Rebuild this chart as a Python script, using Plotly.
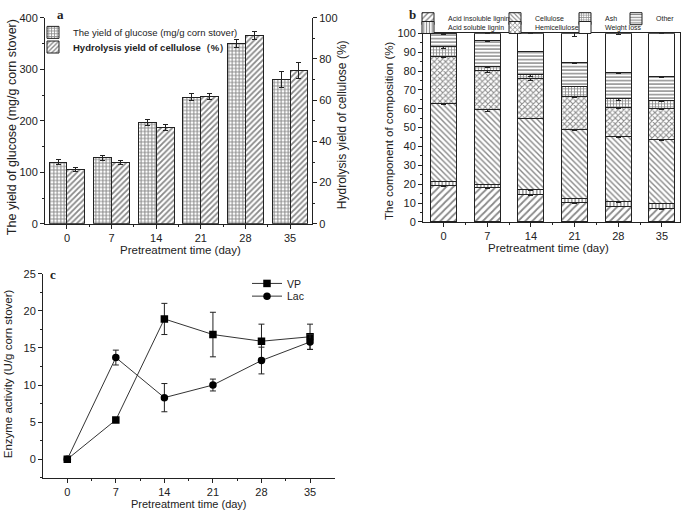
import plotly.graph_objects as go

# ---------------- data ----------------
days = [0, 7, 14, 21, 28, 35]

# panel a
glucose = [120, 128, 197, 246, 350, 280]
glucose_err = [5, 5, 6, 6, 7, 16]
hydrolysis = [26.3, 29.7, 46.8, 61.8, 91.5, 74.5]
hydrolysis_err = [1.0, 1.0, 1.5, 1.3, 2.0, 4.0]

# panel b (segment sizes, %)
ail = [19.5, 18.2, 14.5, 10.2, 8.2, 7.0]
asl = [2.0, 1.8, 2.5, 2.4, 2.6, 2.8]
cellulose = [41.5, 39.5, 38.0, 36.2, 34.5, 33.7]
hemicellulose = [24.5, 21.0, 21.0, 17.7, 15.2, 16.7]
ash = [5.5, 2.0, 2.0, 5.5, 5.0, 4.1]
other = [7.0, 13.5, 12.5, 12.3, 13.7, 12.9]
weight_loss = [0.0, 4.0, 9.5, 15.7, 20.8, 22.8]
ail_err = [0.8, 0.5, 0.4, 0.5, 0.3, 0.3]
asl_err = [0.3, 0.3, 0.3, 0.3, 0.3, 0.3]
cellulose_err = [0.6, 1.2, 0.4, 0.5, 0.4, 0.5]
hemicellulose_err = [0.5, 1.5, 0.8, 0.5, 0.6, 0.8]
ash_err = [0.8, 0.5, 1.0, 0.4, 1.0, 0.5]
other_err = [0.4, 0.3, 0.3, 0.5, 0.4, 0.6]
weight_loss_err = [0.3, 0.3, 0.3, 1.5, 0.4, 0.3]

# panel c
vp = [0.0, 5.3, 18.9, 16.8, 15.9, 16.5]
vp_err = [0.0, 0.2, 2.1, 3.0, 2.3, 1.7]
lac = [0.0, 13.7, 8.3, 10.0, 13.3, 15.8]
lac_err = [0.0, 1.0, 1.9, 0.8, 1.8, 1.0]

tick_days = [0, 7, 14, 21, 28, 35]
tick_text = ["0", "7", "14", "21", "28", "35"]

W, H = 685, 519
FONT = "Liberation Sans, Arial, sans-serif"
INK = "#222222"
PAT = "#111111"


def px(x):
    return x / W


def py(y):
    return 1 - y / H


fig = go.Figure()

err_style = dict(type="data", color=INK, thickness=1, width=2.5)

# ---------------- panel a ----------------
fig.add_trace(go.Bar(
    x=days, y=glucose, width=2.8, offset=-2.8,
    name="The yield of glucose (mg/g corn stover)",
    marker=dict(color="white", line=dict(color=INK, width=1),
                pattern=dict(shape="+", size=3.5, solidity=0.5,
                             fgcolor=PAT, bgcolor="white")),
    error_y=dict(array=glucose_err, **err_style),
    xaxis="x", yaxis="y", legend="legend",
))
fig.add_trace(go.Bar(
    x=days, y=hydrolysis, width=2.8, offset=0,
    name="<b>Hydrolysis yield of cellulose（%）</b>",
    marker=dict(color="white", line=dict(color=INK, width=1),
                pattern=dict(shape="/", size=4, solidity=0.45,
                             fgcolor=PAT, bgcolor="white")),
    error_y=dict(array=hydrolysis_err, **err_style),
    xaxis="x", yaxis="y2", legend="legend2",
))

# ---------------- panel b ----------------
b_series = [
    ("Acid insoluble lignin", ail, ail_err, "/", 5, 0.35, "legend3"),
    ("Acid soluble lignin", asl, asl_err, "|", 3.5, 0.4, "legend4"),
    ("Cellulose", cellulose, cellulose_err, "\\", 4, 0.35, "legend5"),
    ("Hemicellulose", hemicellulose, hemicellulose_err, "x", 4, 0.45, "legend6"),
    ("Ash", ash, ash_err, "+", 3, 0.45, "legend7"),
    ("Weight loss", weight_loss, weight_loss_err, "", 4, 0.3, "legend8"),
    ("Other", other, other_err, "-", 3.5, 0.4, "legend9"),
]
order = ["Acid insoluble lignin", "Acid soluble lignin", "Cellulose",
         "Hemicellulose", "Ash", "Other", "Weight loss"]
lookup = {s[0]: s for s in b_series}
for nm in order:
    name, vals, errs, shape, size, sol, leg = lookup[nm]
    pat = dict(shape=shape, size=size, solidity=sol, fgcolor=PAT,
               bgcolor="white")
    fig.add_trace(go.Bar(
        x=days, y=vals, width=4.15, name=name,
        marker=dict(color="white", line=dict(color=INK, width=1),
                    pattern=pat),
        error_y=dict(array=errs, **err_style),
        xaxis="x2", yaxis="y3", legend=leg,
    ))

# ---------------- panel c ----------------
fig.add_trace(go.Scatter(
    x=days, y=vp, mode="lines+markers", name="VP",
    line=dict(color="#333333", width=1),
    marker=dict(symbol="square", size=7.5, color="black"),
    error_y=dict(array=vp_err, type="data", color=INK, thickness=1, width=3),
    xaxis="x3", yaxis="y4", legend="legend10",
))
fig.add_trace(go.Scatter(
    x=days, y=lac, mode="lines+markers", name="Lac",
    line=dict(color="#333333", width=1),
    marker=dict(symbol="circle", size=7.5, color="black"),
    error_y=dict(array=lac_err, type="data", color=INK, thickness=1, width=3),
    xaxis="x3", yaxis="y4", legend="legend11",
))

# ---------------- axes ----------------
tickfont = dict(family=FONT, size=11, color=INK)


def xax(domain, rng, anchor, mirror=False):
    return dict(domain=domain, range=rng, anchor=anchor,
                tickmode="array", tickvals=tick_days, ticktext=tick_text,
                ticks="outside", ticklen=4, tickwidth=1, tickcolor=INK,
                minor=dict(tickmode="array", tickvals=[3.5, 10.5, 17.5, 24.5, 31.5],
                           ticks="outside", ticklen=2, tickcolor=INK),
                showline=True, linecolor=INK, linewidth=1, mirror=mirror,
                showgrid=False, zeroline=False, tickfont=tickfont)


def yax(domain, rng, dtick, minor, anchor, side="left", mirror=False,
        overlaying=None):
    d = dict(domain=domain, range=rng, anchor=anchor, side=side,
             tick0=0, dtick=dtick, ticks="outside", ticklen=4, tickwidth=1,
             tickcolor=INK,
             minor=dict(dtick=minor, tick0=0, ticks="outside", ticklen=2,
                        tickcolor=INK),
             showline=True, linecolor=INK, linewidth=1, mirror=mirror,
             showgrid=False, zeroline=False, tickfont=tickfont)
    if overlaying:
        d["overlaying"] = overlaying
    return d


ya_dom = [py(223), py(12)]
yb_dom = [py(221), py(28)]
yc_dom = [py(483), py(274)]

fig.update_layout(
    xaxis=xax([px(45), px(312)], [-3.45, 38.45], "y"),
    yaxis=yax(ya_dom, [0, 400], 100, 50, "x"),
    yaxis2=yax(ya_dom, [0, 100], 20, 10, "x", side="right", overlaying="y"),
    xaxis2=xax([px(423), px(680)], [-3.3, 37.9], "y3", mirror=True),
    yaxis3=yax(yb_dom, [0, 100], 10, 5, "x2", mirror=True),
    xaxis3=xax([px(43), px(335)], [-3.5, 38.6], "y4"),
    yaxis4=dict(yax(yc_dom, [-2.5, 25], 5, 2.5, "x3"),
                tickvals=[0, 5, 10, 15, 20, 25], tickmode="array",
                minor=dict(tickmode="array", tickvals=[-2.5, 2.5, 7.5, 12.5, 17.5, 22.5],
                           ticks="outside", ticklen=2, tickcolor=INK)),
)

# ---------------- legends ----------------
def leg(text_x, yp, size):
    # plotly puts the entry text 40 px right of the legend's left edge
    return dict(x=px(text_x - 40), y=py(yp), xanchor="left", yanchor="middle",
                bgcolor="rgba(0,0,0,0)", borderwidth=0,
                font=dict(family=FONT, size=size, color=INK),
                tracegroupgap=0, itemclick=False, visible=True)


fig.update_layout(
    showlegend=True,
    legend=leg(73, 27, 9.5),
    legend2=leg(73, 42, 9.5),
    legend3=leg(448, 13, 7),
    legend4=leg(448, 22, 7),
    legend5=leg(535, 13, 7),
    legend6=leg(535, 22, 7),
    legend7=leg(605, 13, 7),
    legend8=leg(605, 22, 7),
    legend9=leg(656, 13, 7),
    legend10=leg(287, 284, 10.5),
    legend11=leg(287, 297, 10.5),
)

# ---------------- titles / labels ----------------
def ann(text, x, y, size, angle=0, family=FONT, bold=False):
    t = f"<b>{text}</b>" if bold else text
    return dict(text=t, x=px(x), y=py(y), xref="paper", yref="paper",
                showarrow=False, textangle=angle, xanchor="center",
                yanchor="middle",
                font=dict(family=family, size=size, color=INK))


SERIF = "Liberation Serif, Times New Roman, serif"
annotations = [
    ann("The yield of glucose (mg/g corn stover)", 12, 124, 12.5, -90),
    ann("Hydrolysis yield of cellulose (%)", 342, 122, 12, -90),
    ann("Pretreatment time (day)", 180, 250, 11.5),
    ann("a", 60, 9, 13, family=SERIF, bold=True),
    ann("The component of composition (%)", 389, 128, 11.5, -90),
    ann("Pretreatment time (day)", 548, 248, 11.5),
    ann("b", 413, 9, 13, family=SERIF, bold=True),
    ann("Enzyme activity (U/g corn stover)", 8, 377, 11.5, -90),
    ann("Pretreatment time (day)", 189, 510, 11),
    ann("c", 53, 275, 13, family=SERIF, bold=True),
]

fig.update_layout(
    width=W, height=H,
    margin=dict(l=0, r=0, t=0, b=0),
    paper_bgcolor="white", plot_bgcolor="white",
    barmode="stack",
    font=dict(family=FONT, color=INK),
    annotations=annotations,
)

# remove the browser's default 8px body margin so the figure fills the window
fig.write_html(
    "out.html",
    config={"displayModeBar": False},
    post_script="document.body.style.margin='0';document.body.style.overflow='hidden';",
)
